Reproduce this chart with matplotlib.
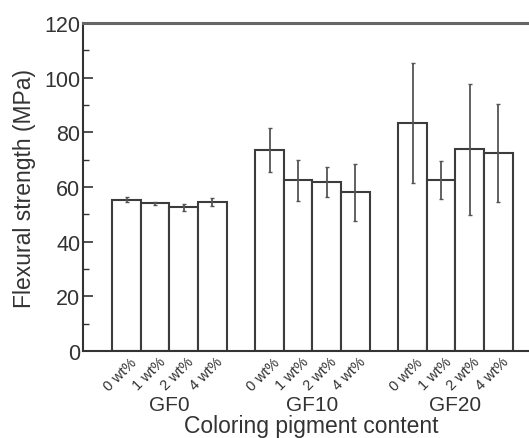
import numpy as np
import matplotlib
matplotlib.use('Agg')
import matplotlib.pyplot as plt
import matplotlib.transforms as mtransforms
from matplotlib.ticker import MultipleLocator

plt.rcParams['font.family'] = ['Liberation Sans', 'DejaVu Sans']

# data
groups = ['GF0', 'GF10', 'GF20']
contents = ['0 wt%', '1 wt%', '2 wt%', '4 wt%']
strength = [
    [55.4, 54.1, 52.6, 54.6],
    [73.7, 62.6, 61.8, 58.1],
    [83.4, 62.6, 73.9, 72.4],
]
errors = [
    [1.0, 0.6, 1.4, 1.5],
    [8.0, 7.5, 5.5, 10.5],
    [22.0, 7.0, 24.0, 18.0],
]

fig = plt.figure(figsize=(5.29, 4.39), dpi=100)
ax = fig.add_axes([0.157, 0.198, 0.843, 0.747])

positions = []
tick_labels = []
for g, name in enumerate(groups):
    x = g * 5 + np.arange(len(contents))
    positions.extend(x)
    tick_labels.extend(contents)
    ax.bar(x, strength[g], width=1.0, color='white', edgecolor='#3c3c3c',
           linewidth=1.5, zorder=2)
    ax.errorbar(x, strength[g], yerr=errors[g], fmt='none', ecolor='#555555',
                elinewidth=1.3, capsize=1.5, capthick=1.0, zorder=3)
    ax.text(g * 5 + 1.5, -0.162, name, transform=ax.get_xaxis_transform(),
            ha='center', va='center', fontsize=15, color='#333333')

ax.set_xlim(-1.52, 14.07)
ax.set_ylim(0, 120)
ax.set_xticks(positions)
ax.set_xticklabels(tick_labels, rotation=45, ha='right', va='center',
                   rotation_mode='anchor', fontsize=10.5, color='#333333')
ax.tick_params(axis='x', length=0, pad=6)
shift = mtransforms.ScaledTranslation(8 / 100, 0, fig.dpi_scale_trans)
for lab in ax.get_xticklabels():
    lab.set_transform(lab.get_transform() + shift)

ax.yaxis.set_major_locator(MultipleLocator(20))
ax.yaxis.set_minor_locator(MultipleLocator(10))
ax.tick_params(axis='y', which='major', direction='in', length=7, width=1.2,
               labelsize=15.5, colors='#333333', pad=2)
ax.tick_params(axis='y', which='minor', direction='in', length=4, width=1.0,
               colors='#333333')

ax.spines['right'].set_visible(False)
ax.spines['top'].set_color('#666666')
ax.spines['top'].set_linewidth(2.2)
for side in ['left', 'bottom']:
    ax.spines[side].set_color('#333333')
    ax.spines[side].set_linewidth(1.5)

ax.set_ylabel('Flexural strength (MPa)', fontsize=16.5, color='#333333', labelpad=6)
ax.text(0.512, -0.247, 'Coloring pigment content', transform=ax.transAxes,
        ha='center', va='baseline', fontsize=16.5, color='#333333')

fig.savefig('out.png', dpi=100)
